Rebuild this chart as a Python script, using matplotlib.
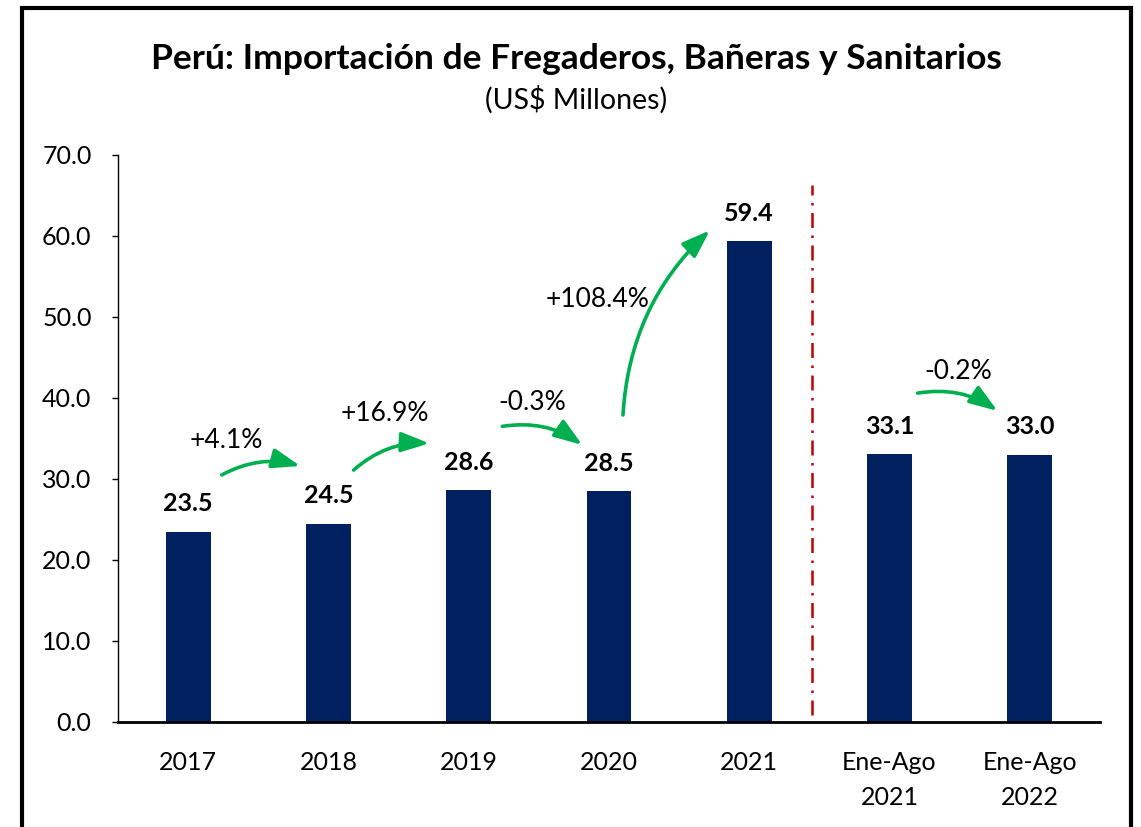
import matplotlib
matplotlib.use("Agg")
import matplotlib.pyplot as plt
from matplotlib.patches import Rectangle

plt.rcParams['font.family'] = ['Lato', 'DejaVu Sans']

categories = ['2017', '2018', '2019', '2020', '2021', 'Ene-Ago\n2021', 'Ene-Ago\n2022']
values = [23.5, 24.5, 28.6, 28.5, 59.4, 33.1, 33.0]
value_labels = ['23.5', '24.5', '28.6', '28.5', '59.4', '33.1', '33.0']

# variation labels with (text position, arrow start, arrow end) in data coords
pct_labels = ['+4.1%', '+16.9%', '-0.3%', '+108.4%', '-0.2%']
pct_text_pos = [(0.27, 34.8), (1.40, 38.1), (2.45, 39.5), (2.92, 52.2), (5.49, 43.3)]
arrow_start = [(0.24, 30.5), (1.18, 31.1), (2.24, 36.5), (3.10, 37.9), (5.20, 40.6)]
arrow_end = [(0.80, 31.6), (1.72, 34.4), (2.81, 34.2), (3.72, 60.7), (5.77, 38.4)]

navy = '#002060'
green = '#00B050'

fig = plt.figure(figsize=(11.41, 8.27), dpi=100)
ax = fig.add_axes([0.1034, 0.127, 0.8606, 0.6856])

x = range(len(categories))
ax.bar(x, values, width=0.32, color=navy)

for i, (v, lab) in enumerate(zip(values, value_labels)):
    ax.text(i, v + 2.0, lab, ha='center', va='bottom', fontsize=18, fontweight='bold')

for lab, tp, s, e in zip(pct_labels, pct_text_pos, arrow_start, arrow_end):
    ax.text(tp[0], tp[1], lab, ha='center', va='center', fontsize=19)
    ax.annotate('', xy=e, xytext=s,
                arrowprops=dict(arrowstyle='-|>,head_length=1.7,head_width=0.6',
                                color=green, lw=2.6,
                                connectionstyle='arc3,rad=-0.2',
                                shrinkA=0, shrinkB=0))

# separator between annual and partial-year data
ax.plot([4.45, 4.45], [0.9, 66.3], color='#C00000', lw=1.8, linestyle=(0, (6, 3, 1, 3)))

ax.set_xlim(-0.5, 6.5)
ax.set_ylim(0, 70)
ax.set_yticks(range(0, 71, 10))
ax.set_yticklabels([f'{t:.1f}' for t in range(0, 71, 10)])
ax.set_xticks(list(x))
ax.set_xticklabels(categories, linespacing=1.6)
ax.tick_params(axis='y', labelsize=18, length=4, width=1, pad=15)
ax.tick_params(axis='x', labelsize=18, length=0, pad=21)

ax.spines['top'].set_visible(False)
ax.spines['right'].set_visible(False)
ax.spines['left'].set_linewidth(1.0)
ax.spines['bottom'].set_linewidth(2.0)

fig.text(0.505, 0.929, 'Perú: Importación de Fregaderos, Bañeras y Sanitarios',
         ha='center', va='center', fontsize=25.5, fontweight='bold')
fig.text(0.505, 0.880, '(US$ Millones)', ha='center', va='center', fontsize=20.5)

fig.patches.append(Rectangle((22 / 1141, -0.05), (1131 - 22) / 1141, (827 - 8) / 827 + 0.05,
                             transform=fig.transFigure, fill=False, edgecolor='black', lw=3))

fig.savefig('out.png', dpi=100)
